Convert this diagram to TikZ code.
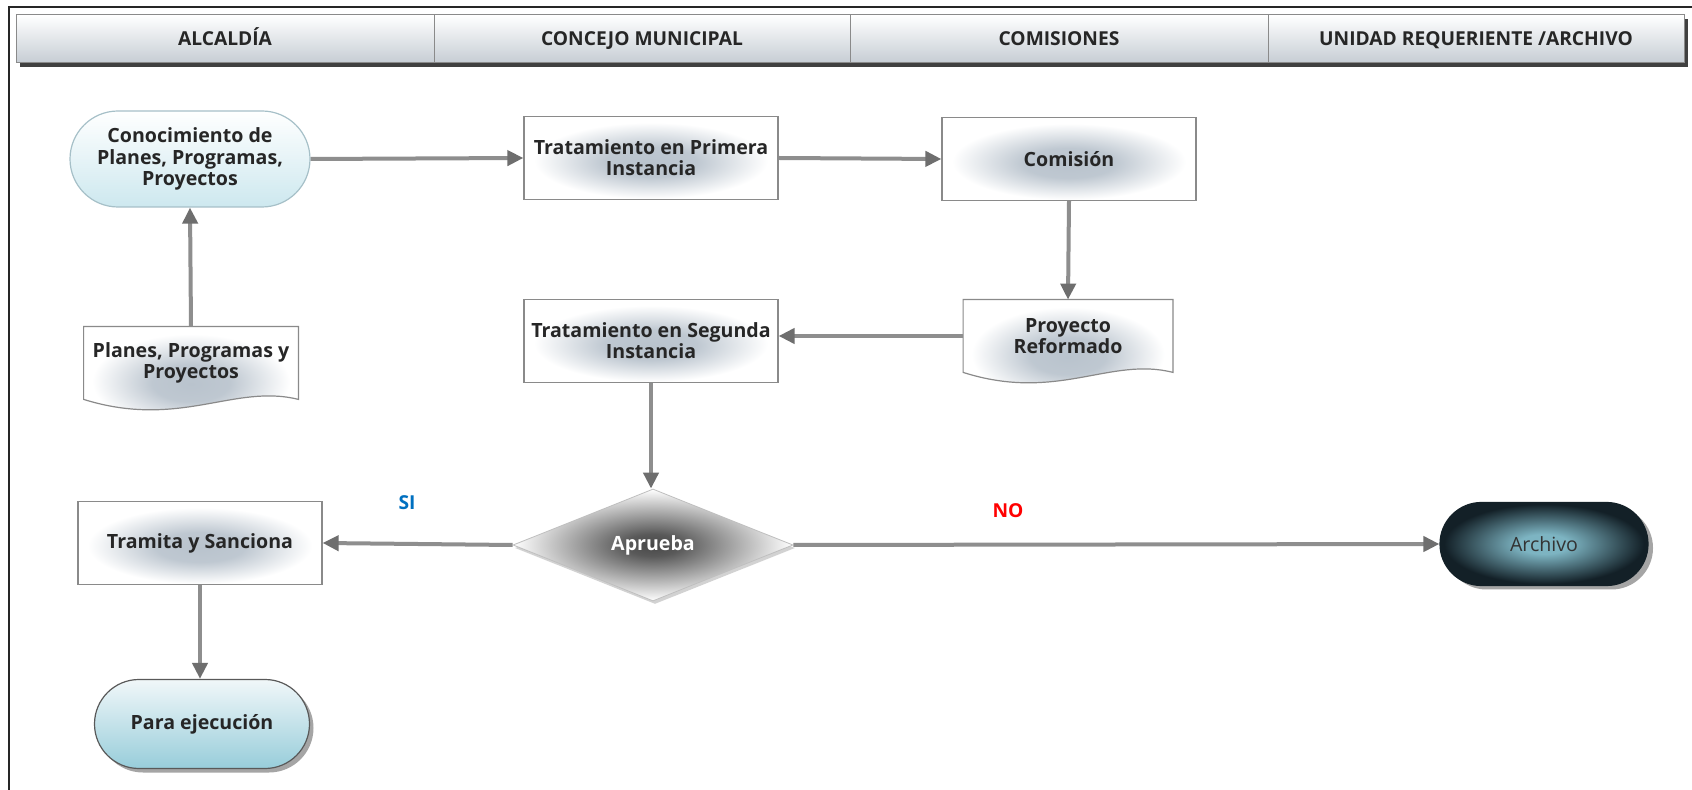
\documentclass[tikz,border=0pt]{standalone}
\usepackage{fontspec}
\setmainfont{Open Sans}
\usetikzlibrary{arrows.meta,shapes.geometric,shapes.misc,shadows,calc,backgrounds}

\definecolor{arrowgray}{HTML}{8E8E8E}
\definecolor{tipgray}{HTML}{6E6E6E}
\definecolor{boxedge}{HTML}{8A8A8A}
\definecolor{boxglow}{HTML}{B9C3CD}
\definecolor{hdrgray}{HTML}{C6CDD4}
\definecolor{pillcyan}{HTML}{CDE8EF}
\definecolor{pilledge}{HTML}{A6C0C8}
\definecolor{exectop}{HTML}{F0F7F9}
\definecolor{execbot}{HTML}{98CDDA}
\definecolor{archin}{HTML}{7DB4C2}
\definecolor{archout}{HTML}{132027}
\definecolor{siblue}{HTML}{0070C0}
\definecolor{textdark}{HTML}{262626}

% soft grey-blue glow for the process boxes
\pgfdeclareradialshading{boxfill}{\pgfpoint{0bp}{-3bp}}{%
  color(0bp)=(boxglow); color(9bp)=(boxglow!92!white); color(23bp)=(white); color(50bp)=(white)}
% dark rim with a light core for the archive terminator
\pgfdeclareradialshading{archfill}{\pgfpoint{0bp}{0bp}}{%
  color(0bp)=(archin); color(6bp)=(archin); color(24bp)=(archout); color(50bp)=(archout)}
% dark core fading to white for the decision
\pgfdeclareradialshading{decfill}{\pgfpoint{0bp}{0bp}}{%
  color(0bp)=(black!72); color(5bp)=(black!65); color(25bp)=(white); color(50bp)=(white)}

\tikzset{
  lbl/.style={font=\bfseries\fontsize{9.8}{10.6}\selectfont, text=textdark, align=center, inner sep=0pt},
  hdrcell/.style={font=\bfseries\fontsize{9.6}{10.6}\selectfont, text=textdark, inner sep=0pt,
    text height=7pt, text depth=0pt,
    draw=boxedge, line width=0.5pt, top color=white, bottom color=hdrgray, minimum height=24pt},
  flowbox/.style={lbl, draw=boxedge, line width=0.6pt, shading=boxfill, minimum height=41.5pt},
  docpath/.style={draw=boxedge, line width=0.6pt, shading=boxfill},
  startpill/.style={lbl, rounded rectangle, draw=pilledge, line width=0.6pt, top color=white,
    bottom color=pillcyan, minimum width=120pt, minimum height=48pt},
  endpill/.style={lbl, rounded rectangle, draw=black!65, line width=0.6pt, top color=exectop,
    bottom color=execbot, minimum width=107.5pt, minimum height=44.5pt,
    drop shadow={shadow xshift=2pt, shadow yshift=-2pt, fill=black!70}},
  archpill/.style={font=\fontsize{9.8}{10.6}\selectfont, text=black!80, inner sep=0pt,
    rounded rectangle, draw=archout, line width=0.6pt, shading=archfill,
    minimum width=104pt, minimum height=41.5pt,
    drop shadow={shadow xshift=2.5pt, shadow yshift=-2pt, fill=black!70}},
  decision/.style={lbl, text=white, diamond, draw=black!25, line width=0.4pt, shading=decfill,
    minimum width=140pt, minimum height=56pt,
    drop shadow={shadow xshift=1pt, shadow yshift=-1.5pt, fill=black!35}},
  flow/.style={draw=arrowgray, line width=2pt,
    -{Triangle[length=8pt,width=7.5pt,fill=tipgray,color=tipgray]}},
  answer/.style={font=\bfseries\fontsize{9.6}{10.6}\selectfont, inner sep=0pt}
}

\begin{document}
\begin{tikzpicture}[x=0.5pt,y=-0.5pt]
\useasboundingbox (0,0) rectangle (1692,790);
\begin{scope}[on background layer]
  \fill[white] (0,0) rectangle (1692,790);
\end{scope}

% outer frame (top and left edges)
\draw[line width=0.7pt, black!85] (1692,7) -- (9,7) -- (9,790);

% swimlane header with its drop shadow
\fill[black!75] (20,19) rectangle (1688,67);
\node[hdrcell, minimum width=209pt] (h1) at (225,39) {ALCALDÍA};
\node[hdrcell, minimum width=208pt] (h2) at (642,39) {CONCEJO MUNICIPAL};
\node[hdrcell, minimum width=209pt] (h3) at (1059,39) {COMISIONES};
\node[hdrcell, minimum width=208pt] (h4) at (1476,39) {UNIDAD REQUERIENTE /ARCHIVO};

% process steps
\node[startpill] (know) at (190,159) {Conocimiento de\\Planes, Programas,\\Proyectos};
\node[flowbox, minimum width=127pt] (first) at (651,158) {Tratamiento en Primera\\Instancia};
\node[flowbox, minimum width=127pt] (comm) at (1069,159) {Comisión};
\node[flowbox, minimum width=127pt] (second) at (651,341) {Tratamiento en Segunda\\Instancia};
\node[flowbox, minimum width=122pt] (sanc) at (200,543) {Tramita y Sanciona};
\node[decision] (appr) at (653,545) {Aprueba};
\node[endpill] (exec) at (202,724) {Para ejecución};
\node[archpill] (arch) at (1544,544) {Archivo};

% document-shaped steps (outline drawn behind the text)
\node[lbl, minimum width=107pt, minimum height=36pt] (plans) at (191,363) {Planes, Programas y\\Proyectos};
\node[lbl, minimum width=104.5pt, minimum height=36pt] (reform) at (1068,336) {Proyecto\\Reformado};
\begin{scope}[on background layer]
  \foreach \d/\w in {plans/214, reform/209}{
    \path[docpath] (\d.north west) -- (\d.north east) -- (\d.south east)
      .. controls ($(\d.south east)+(-0.3*\w,-16)$) and ($(\d.south west)+(0.45*\w,30)$)
      .. (\d.south west) -- cycle;
  }
\end{scope}

% connectors
\draw[flow] (plans.north) -- (know.south);
\draw[flow] (know.east) -- (first.west);
\draw[flow] (first.east) -- (comm.west);
\draw[flow] (comm.south) -- (reform.north);
\draw[flow] (reform.west) -- (reform.west -| second.east);
\draw[flow] (second.south) -- (second.south |- appr.north);
\draw[flow] (appr.west) -- (sanc.east);
\draw[flow] (appr.east) -- (arch.west);
\draw[flow] (sanc.south) -- (sanc.south |- exec.north);

% decision answers
\node[answer, text=siblue] (yes) at (407,503) {SI};
\node[answer, text=red] (no) at (1008,511) {NO};
\end{tikzpicture}
\end{document}
